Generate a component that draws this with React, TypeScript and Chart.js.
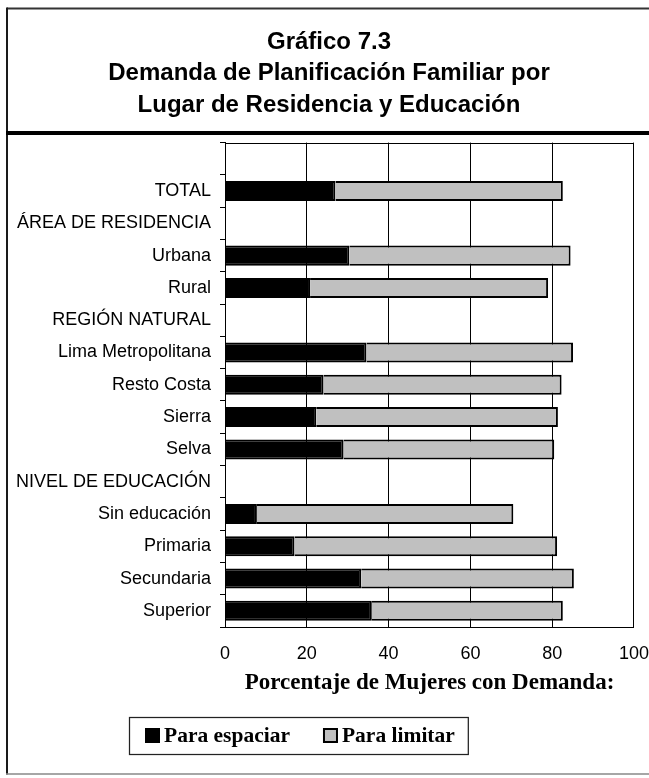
import React, { useEffect, useRef } from 'react';
import { Chart, registerables } from 'chart.js';

Chart.register(...registerables);

const titleLines = [
  'Gráfico 7.3',
  'Demanda de Planificación Familiar por',
  'Lugar de Residencia y Educación',
];

const categories = [
  '',
  'TOTAL',
  'ÁREA DE RESIDENCIA',
  'Urbana',
  'Rural',
  'REGIÓN NATURAL',
  'Lima Metropolitana',
  'Resto Costa',
  'Sierra',
  'Selva',
  'NIVEL DE EDUCACIÓN',
  'Sin educación',
  'Primaria',
  'Secundaria',
  'Superior',
];

const paraEspaciar = [null, 27.0, null, 30.4, 20.8, null, 34.6, 24.1, 22.3, 29.0, null, 7.8, 17.0, 33.3, 35.9];
const paraLimitar = [null, 55.6, null, 54.1, 58.2, null, 50.5, 58.2, 59.1, 51.5, null, 62.7, 64.2, 52.0, 46.7];

const seriesNames = ['Para espaciar', 'Para limitar'];
const xTitle = 'Porcentaje de Mujeres con Demanda:';
const xMin = 0;
const xMax = 100;
const xStep = 20;

const decorPlugin = {
  id: 'decor',
  beforeDraw(chart: any) {
    const ctx = chart.ctx;
    ctx.save();
    ctx.fillStyle = '#ffffff';
    ctx.fillRect(0, 0, chart.width, chart.height);
    // outer frame
    ctx.strokeStyle = '#333333';
    ctx.lineWidth = 2;
    ctx.beginPath();
    ctx.moveTo(7, 8.5);
    ctx.lineTo(chart.width, 8.5);
    ctx.stroke();
    ctx.strokeStyle = '#1a1a1a';
    ctx.beginPath();
    ctx.moveTo(7, 7.5);
    ctx.lineTo(7, 774.5);
    ctx.stroke();
    ctx.strokeStyle = '#888888';
    ctx.lineWidth = 1.5;
    ctx.beginPath();
    ctx.moveTo(6, 774);
    ctx.lineTo(chart.width, 774);
    ctx.stroke();
    // title separator
    ctx.strokeStyle = '#000000';
    ctx.lineWidth = 4;
    ctx.beginPath();
    ctx.moveTo(6, 133);
    ctx.lineTo(chart.width, 133);
    ctx.stroke();
    ctx.restore();
  },
  afterDraw(chart: any) {
    const ctx = chart.ctx;
    const ca = chart.chartArea;
    ctx.save();
    ctx.strokeStyle = '#000000';
    ctx.lineWidth = 1;
    const ty = Math.round(ca.top) + 0.5;
    ctx.beginPath();
    ctx.moveTo(ca.left, ty);
    ctx.lineTo(ca.right, ty);
    ctx.stroke();

    // legend
    ctx.font = 'bold 21.5px "Liberation Serif", "Times New Roman", serif';
    ctx.textBaseline = 'middle';
    ctx.textAlign = 'left';
    const boxLeft = 129;
    const boxTop = 717;
    const boxH = 37;
    const cy = boxTop + boxH / 2;
    let x = 145;
    const sq = 15;
    chart.data.datasets.forEach((ds: any, i: number) => {
      ctx.fillStyle = ds.backgroundColor;
      ctx.fillRect(x, cy - sq / 2, sq, sq);
      ctx.strokeStyle = '#000000';
      ctx.lineWidth = 2;
      ctx.strokeRect(x + 1, cy - sq / 2 + 1, sq - 2, sq - 2);
      x += sq + 4;
      ctx.fillStyle = '#000000';
      ctx.fillText(ds.label, x, cy + 1);
      x += ctx.measureText(ds.label).width;
      if (i < chart.data.datasets.length - 1) x += 33;
    });
    const boxRight = x + 13;
    ctx.strokeStyle = '#222222';
    ctx.lineWidth = 1.25;
    ctx.strokeRect(boxLeft + 0.5, boxTop + 0.5, boxRight - boxLeft, boxH);
    ctx.restore();
  },
};

export default function App() {
  const canvasRef = useRef<HTMLCanvasElement | null>(null);

  useEffect(() => {
    if (!canvasRef.current) return;
    const chart = new Chart(canvasRef.current, {
      type: 'bar',
      data: {
        labels: categories,
        datasets: [
          {
            label: seriesNames[0],
            data: paraEspaciar,
            backgroundColor: '#000000',
            borderColor: '#000000',
            borderWidth: 2,
            barPercentage: 0.62,
            categoryPercentage: 1,
          },
          {
            label: seriesNames[1],
            data: paraLimitar,
            backgroundColor: '#c0c0c0',
            borderColor: '#000000',
            borderWidth: 2,
            barPercentage: 0.62,
            categoryPercentage: 1,
          },
        ],
      },
      options: {
        indexAxis: 'y',
        responsive: false,
        maintainAspectRatio: false,
        animation: false,
        devicePixelRatio: 1,
        layout: { padding: { left: 7, right: -2, top: 0, bottom: 0 } },
        plugins: {
          legend: { display: false },
          tooltip: { enabled: false },
          title: {
            display: true,
            text: titleLines,
            color: '#000000',
            font: { family: '"Liberation Sans", Arial, sans-serif', size: 24, weight: 'bold', lineHeight: 1.3 },
            padding: { top: 27, bottom: 22 },
          },
        },
        scales: {
          x: {
            stacked: true,
            min: xMin,
            max: xMax,
            ticks: {
              stepSize: xStep,
              color: '#000000',
              font: { family: '"Liberation Sans", Arial, sans-serif', size: 18 },
              padding: 0,
              maxRotation: 0,
            },
            grid: { color: '#000000', lineWidth: 1, drawTicks: true, tickLength: 16, tickColor: 'rgba(0,0,0,0)' },
            border: { display: true, color: '#000000', width: 1 },
            title: {
              display: true,
              text: xTitle,
              color: '#000000',
              font: { family: '"Liberation Serif", "Times New Roman", serif', size: 23, weight: 'bold', lineHeight: 1.2 },
              padding: { top: 0, bottom: 81 },
            },
            afterFit: (scale: any) => {
              scale.height = 151;
            },
          },
          y: {
            stacked: true,
            ticks: {
              color: '#000000',
              font: { family: '"Liberation Sans", Arial, sans-serif', size: 18 },
              padding: 9,
              autoSkip: false,
            },
            grid: { color: '#000000', lineWidth: 1, drawOnChartArea: false, drawTicks: true, tickLength: 5, offset: true },
            border: { display: true, color: '#000000', width: 1 },
            afterFit: (scale: any) => {
              scale.width = 218;
            },
          },
        },
      },
      plugins: [decorPlugin],
    });
    return () => chart.destroy();
  }, []);

  return (
    <div style={{ position: 'absolute', left: 0, top: 0, width: 649, height: 778, background: '#fff' }}>
      <canvas ref={canvasRef} width={649} height={778} style={{ display: 'block', width: 649, height: 778 }} />
    </div>
  );
}
